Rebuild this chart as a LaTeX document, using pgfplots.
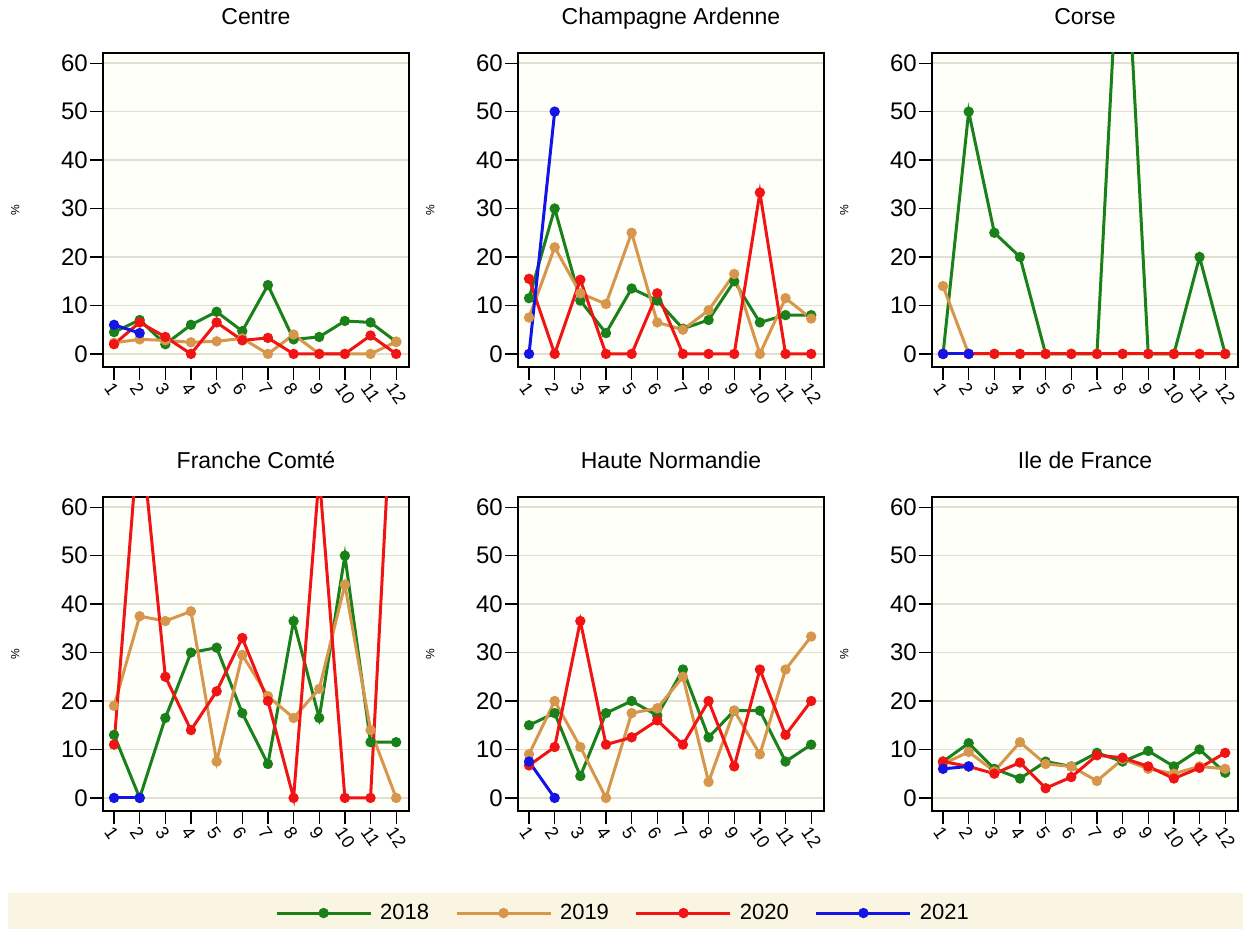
\documentclass[border=0pt]{standalone}
\usepackage{pgfplots}
\pgfplotsset{compat=1.18}
\usepackage{fontspec}
\setmainfont{Liberation Sans}
\definecolor{cG}{RGB}{26,128,26}
\definecolor{cO}{RGB}{214,150,75}
\definecolor{cR}{RGB}{240,20,20}
\definecolor{cB}{RGB}{20,20,230}
\definecolor{gridc}{RGB}{225,223,212}
\definecolor{bgc}{RGB}{255,255,250}
\definecolor{legbg}{RGB}{250,244,226}
\pgfplotsset{panel/.style={
  scale only axis, width=306pt, height=314pt,
  xmin=0.57, xmax=12.5, ymin=-2.7, ymax=62.1,
  xtick={1,...,12}, ytick={0,10,...,60},
  tick align=outside, major tick length=13pt,
  xtick pos=lower, ytick pos=left,
  ymajorgrids, grid style={gridc, line width=1.6pt},
  axis background/.style={fill=bgc},
  axis line style={line width=1.3pt},
  every tick/.style={black, line width=1.3pt},
  /pgf/number format/assume math mode=true,
  yticklabel style={font=\fontsize{24}{24}\selectfont, inner sep=2pt},
  xticklabel style={font=\fontsize{18}{18}\selectfont, rotate=-55, anchor=north west, inner sep=1pt},
  title style={font=\fontsize{23}{23}\selectfont, at={(0.5,1)}, anchor=base, yshift=22pt},
  ylabel={\%},
  ylabel style={font=\fontsize{12}{12}\selectfont, at={(axis description cs:-0.287,0.5)}, anchor=center},
  every axis plot/.append style={line width=3pt, mark=*, mark size=3.6pt, mark options={solid}},
  legend image code/.code={\draw[line width=3pt, mark repeat=2,mark phase=2] plot coordinates {(0pt,0pt) (47pt,0pt) (94pt,0pt)};},
}}
\begin{document}
\begin{tikzpicture}
\useasboundingbox (0pt,0pt) rectangle (1255pt,929pt);
\fill[legbg] (8pt,0pt) rectangle (1243pt,36pt);
% ---------- Centre
\begin{axis}[panel, at={(103pt,562pt)}, title={Centre}]
\addplot[cG] coordinates {(1,4.5)(2,7)(3,2)(4,6)(5,8.7)(6,4.7)(7,14.2)(8,3)(9,3.5)(10,6.8)(11,6.5)(12,2.5)};
\addplot[cO] coordinates {(1,2.3)(2,3)(3,2.8)(4,2.4)(5,2.6)(6,3.2)(7,0)(8,4)(9,0)(10,0)(11,0)(12,2.5)};
\addplot[cR] coordinates {(1,2)(2,6.5)(3,3.5)(4,0)(5,6.5)(6,2.8)(7,3.3)(8,0)(9,0)(10,0)(11,3.8)(12,0)};
\addplot[cB] coordinates {(1,6)(2,4.3)};
\end{axis}
% ---------- Champagne Ardenne
\begin{axis}[panel, at={(518pt,562pt)}, title={Champagne Ardenne}]
\addplot[cG] coordinates {(1,11.5)(2,30)(3,11)(4,4.3)(5,13.5)(6,11)(7,5.2)(8,7)(9,15)(10,6.5)(11,8)(12,8)};
\addplot[cO] coordinates {(1,7.5)(2,22)(3,12.5)(4,10.3)(5,25)(6,6.5)(7,5)(8,9)(9,16.5)(10,0)(11,11.5)(12,7.3)};
\addplot[cR] coordinates {(1,15.5)(2,0)(3,15.3)(4,0)(5,0)(6,12.5)(7,0)(8,0)(9,0)(10,33.3)(11,0)(12,0)};
\addplot[cB] coordinates {(1,0)(2,50)};
\end{axis}
% ---------- Corse
\begin{axis}[panel, at={(932pt,562pt)}, title={Corse}]
\addplot[cG] coordinates {(1,0)(2,50)(3,25)(4,20)(5,0)(6,0)(7,0)(8,100)(9,0)(10,0)(11,20)(12,0)};
\addplot[cO] coordinates {(1,14)(2,0)(3,0)(4,0)(5,0)(6,0)(7,0)(8,0)(9,0)(10,0)(11,0)(12,0)};
\addplot[cR] coordinates {(1,0)(2,0)(3,0)(4,0)(5,0)(6,0)(7,0)(8,0)(9,0)(10,0)(11,0)(12,0)};
\addplot[cB] coordinates {(1,0)(2,0)};
\end{axis}
% ---------- Franche Comte
\begin{axis}[panel, at={(103pt,118pt)}, title={Franche Comté}]
\addplot[cG] coordinates {(1,13)(2,0)(3,16.5)(4,30)(5,31)(6,17.5)(7,7)(8,36.5)(9,16.5)(10,50)(11,11.5)(12,11.5)};
\addplot[cO] coordinates {(1,19)(2,37.5)(3,36.5)(4,38.5)(5,7.5)(6,29.5)(7,21)(8,16.5)(9,22.5)(10,44)(11,14)(12,0)};
\addplot[cR] coordinates {(1,11)(2,78)(3,25)(4,14)(5,22)(6,33)(7,20)(8,0)(9,66.7)(10,0)(11,0)(12,100)};
\addplot[cB] coordinates {(1,0)(2,0)};
\end{axis}
% ---------- Haute Normandie
\begin{axis}[panel, at={(518pt,118pt)}, title={Haute Normandie}]
\addplot[cG] coordinates {(1,15)(2,17.5)(3,4.5)(4,17.5)(5,20)(6,17)(7,26.5)(8,12.5)(9,18)(10,18)(11,7.5)(12,11)};
\addplot[cO] coordinates {(1,9)(2,20)(3,10.5)(4,0)(5,17.5)(6,18.5)(7,25)(8,3.3)(9,18)(10,9)(11,26.5)(12,33.3)};
\addplot[cR] coordinates {(1,6.7)(2,10.5)(3,36.5)(4,11)(5,12.5)(6,16)(7,11)(8,20)(9,6.5)(10,26.5)(11,13)(12,20)};
\addplot[cB] coordinates {(1,7.5)(2,0)};
\end{axis}
% ---------- Ile de France
\begin{axis}[panel, at={(932pt,118pt)}, title={Ile de France},
  legend columns=4,
  legend style={at={(-1.0098,-0.325)}, anchor=center, draw=none, fill=none,
    font=\fontsize{22}{22}\selectfont,
    /tikz/every odd column/.append style={column sep=6pt},
    /tikz/every even column/.append style={column sep=24pt}}]
\addplot[cG] coordinates {(1,7.5)(2,11.3)(3,6)(4,4)(5,7.5)(6,6.5)(7,9.3)(8,7.5)(9,9.7)(10,6.5)(11,10)(12,5.2)};
\addplot[cO] coordinates {(1,7)(2,9.5)(3,5.5)(4,11.5)(5,7)(6,6.5)(7,3.5)(8,8)(9,6)(10,5)(11,6.5)(12,6)};
\addplot[cR] coordinates {(1,7.5)(2,6.5)(3,5)(4,7.3)(5,2)(6,4.3)(7,8.8)(8,8.3)(9,6.5)(10,4)(11,6.2)(12,9.3)};
\addplot[cB] coordinates {(1,6)(2,6.5)};
\legend{2018,2019,2020,2021}
\end{axis}
\end{tikzpicture}
\end{document}
